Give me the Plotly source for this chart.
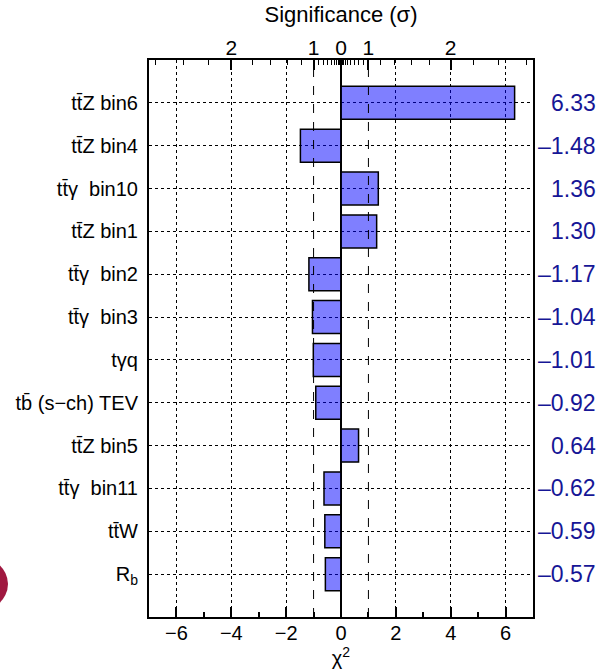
import plotly.graph_objects as go

categories = ["tt\u0304Z bin6", "tt\u0304Z bin4", "tt\u0304\u03b3  bin10", "tt\u0304Z bin1",
              "tt\u0304\u03b3  bin2", "tt\u0304\u03b3  bin3", "t\u03b3q", "tb\u0304 (s\u2212ch) TEV",
              "tt\u0304Z bin5", "tt\u0304\u03b3  bin11", "tt\u0304W", "R<sub>b</sub>"]
values = [6.33, -1.48, 1.36, 1.30, -1.17, -1.04, -1.01, -0.92, 0.64, -0.62, -0.59, -0.57]
value_labels = ["6.33", "\u20131.48", "1.36", "1.30", "\u20131.17", "\u20131.04", "\u20131.01",
                "\u20130.92", "0.64", "\u20130.62", "\u20130.59", "\u20130.57"]

bottom_tickvals = [-6, -4, -2, 0, 2, 4, 6]
bottom_ticktext = ["\u22126", "\u22124", "\u22122", "0", "2", "4", "6"]
sigma_major = [-2, -1, 0, 1, 2]
sigma_major_text = ["2", "1", "0", "1", "2"]
sigma_minor = [0.1, 0.2, 0.3, 0.4, 0.5, 0.6, 0.7, 0.8, 0.9, 1.2, 1.4, 1.6, 1.8, 2.2, 2.4, 2.6]

FONT = "Liberation Sans, Arial, Helvetica, sans-serif"

def sig_to_chi(s):
    return (1 if s >= 0 else -1) * s * s

top_major_vals = [sig_to_chi(s) for s in sigma_major]
top_minor_vals = [sig_to_chi(s) for s in sigma_minor] + [sig_to_chi(-s) for s in sigma_minor]

fig = go.Figure()
fig.add_trace(go.Bar(
    x=values, y=categories, orientation="h",
    marker=dict(color="rgba(0,0,255,0.5)", line=dict(color="black", width=1.5)),
    hoverinfo="x+y", showlegend=False,
))
fig.add_trace(go.Scatter(
    x=values, y=categories, xaxis="x2", mode="markers",
    marker=dict(opacity=0), hoverinfo="skip", showlegend=False,
))

for v in (-1, 1):
    fig.add_vline(x=v, line=dict(color="black", width=1, dash="dash"), layer="above")

for cat, lab in zip(categories, value_labels):
    fig.add_annotation(x=1.169, xref="paper", y=cat, yref="y", text=lab, showarrow=False,
                       xanchor="right", font=dict(family=FONT, size=23, color="rgb(22,22,150)"))

# decorative blob at lower-left edge (screenshot artefact)
fig.add_shape(type="circle", xref="paper", yref="paper",
              xsizemode="pixel", xanchor=0, x0=-210, x1=-141,
              ysizemode="pixel", yanchor=0, y0=4, y1=62,
              fillcolor="rgb(160,24,64)", line=dict(width=0), layer="above")

fig.update_layout(
    width=603, height=670,
    margin=dict(l=149, r=70, t=60, b=53, autoexpand=False),
    plot_bgcolor="white", paper_bgcolor="white",
    bargap=0.23,
    font=dict(family=FONT, size=20, color="black"),
    xaxis=dict(
        automargin=False,
        range=[-7, 7], tickmode="array", tickvals=bottom_tickvals, ticktext=bottom_ticktext,
        ticks="inside", ticklen=10, tickwidth=2, tickcolor="black",
        minor=dict(dtick=1, ticks="inside", ticklen=5, tickwidth=1.5, tickcolor="black", showgrid=False),
        showgrid=True, gridcolor="black", griddash="dot", gridwidth=1,
        zeroline=True, zerolinecolor="black", zerolinewidth=2,
        showline=True, linecolor="black", linewidth=2, mirror=True,
        ticklabelstandoff=-3,
        tickfont=dict(family=FONT, size=20),
        title=dict(text="\u03c7<sup>2</sup>", font=dict(family=FONT, size=20), standoff=5),
    ),
    xaxis2=dict(
        automargin=False,
        overlaying="x", side="top", range=[-7, 7],
        tickmode="array", tickvals=top_major_vals, ticktext=sigma_major_text,
        ticks="inside", ticklen=10, tickwidth=2, tickcolor="black",
        minor=dict(tickmode="array", tickvals=top_minor_vals, ticks="inside", ticklen=5,
                   tickwidth=1, tickcolor="black", showgrid=False),
        showgrid=False, zeroline=False, showline=False,
        tickfont=dict(family=FONT, size=21),
        title=dict(text="Significance (\u03c3)", font=dict(family=FONT, size=22), standoff=7),
    ),
    yaxis=dict(
        automargin=False,
        type="category", categoryorder="array", categoryarray=categories,
        range=[12, -1], ticks="", ticklabelstandoff=5,
        showgrid=True, gridcolor="black", griddash="dot", gridwidth=1,
        showline=True, linecolor="black", linewidth=2, mirror=True,
        tickfont=dict(family=FONT, size=20),
    ),
)

fig.write_html("out.html")
